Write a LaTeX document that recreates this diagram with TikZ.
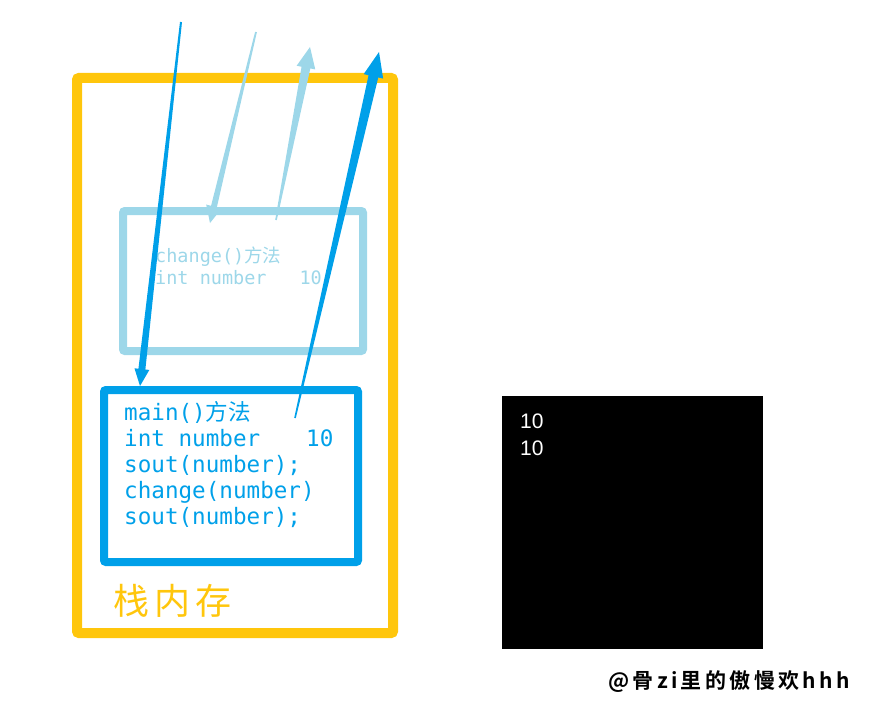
\documentclass[tikz,border=0pt]{standalone}
\usepackage{fontspec}
\usetikzlibrary{calc}
\setmainfont{Liberation Sans}
\newfontfamily\cjk{Noto Sans CJK SC}
\newfontfamily\cjkb{Noto Sans CJK SC Bold}
\newfontfamily\mono{DejaVu Sans Mono}
\definecolor{yel}{RGB}{255,198,12}
\definecolor{dblue}{RGB}{0,160,233}
\definecolor{lblue}{RGB}{157,215,233}
\newcommand\taperarrow[7]{% tail, tip, w1, w2, headlen, headhalf, color
  \coordinate (tb) at ($(#2)!#5pt!(#1)$);
  \coordinate (tb2) at ($(tb)!-1pt!(#1)$);
  \fill[#7] ($(#1)!#3pt!90:(#2)$) -- ($(tb2)!#4pt!90:(#2)$) -- ($(tb2)!#4pt!-90:(#2)$) -- ($(#1)!#3pt!-90:(#2)$) -- cycle;
  \fill[#7] (#2) -- ($(tb)!#6pt!90:(#2)$) -- ($(tb)!#6pt!-90:(#2)$) -- cycle;
}
\tikzset{
  framebox/.style={draw, rounded corners=2pt, inner sep=0pt, outer sep=0pt},
  codetext/.style={anchor=base west, inner sep=0pt, font=\mono\fontsize{22.6}{26}\selectfont, text=dblue},
  chgtext/.style={anchor=base west, inner sep=0pt, font=\mono\fontsize{18.5}{22}\selectfont, text=lblue},
}
\begin{document}
\begin{tikzpicture}[x=1pt,y=-1pt]
\useasboundingbox (0,0) rectangle (888,706);
% boxes
\node[framebox, draw=yel, line width=10pt, minimum width=316pt, minimum height=555pt] (stack) at (235,355.5) {};
\node[framebox, draw=lblue, line width=8pt, minimum width=240pt, minimum height=140pt] (chg) at (243,281) {};
\node[framebox, draw=dblue, line width=8pt, minimum width=254pt, minimum height=172pt] (mainb) at (231,476) {};
\node[fill=black, inner sep=0pt, minimum width=261pt, minimum height=253pt] (console) at (632.5,522.5) {};
% change() text
\node[chgtext] (c1) at (155,262) {change()\cjk 方法};
\node[chgtext] (c2) at (155,284) {int number\hspace{33pt}10};
% main() text
\node[codetext] (m1) at (124,420) {main()\cjk 方法};
\node[codetext] (m2) at (124,446) {int number\hspace{46pt}10};
\node[codetext] (m3) at (124,472) {sout(number);};
\node[codetext] (m4) at (124,498) {change(number)};
\node[codetext] (m5) at (124,524) {sout(number);};
% stack label
\node[text=yel, font=\cjk\fontsize{36}{40}\selectfont\addfontfeature{LetterSpace=14}, inner sep=0pt, anchor=base west] (lbl) at (113,614) {栈内存};
% console output
\node[text=white, font=\fontsize{21}{25}\selectfont, anchor=base west, inner sep=0pt] (o1) at (520,428) {10};
\node[text=white, font=\fontsize{21}{25}\selectfont, anchor=base west, inner sep=0pt] (o2) at (520,455) {10};
% watermark
\node[font=\cjkb\fontsize{21}{24}\selectfont\addfontfeature{LetterSpace=16}, inner sep=0pt] (wm) at (729,682) {@骨zi里的傲慢欢hhh};
% arrows
\coordinate (a1s) at (181,22);  \coordinate (a1t) at (140,386);
\coordinate (a2s) at (256,32);  \coordinate (a2t) at (210,223);
\coordinate (a3s) at (276,220); \coordinate (a3t) at (310,47);
\coordinate (a4s) at (295,418); \coordinate (a4t) at (379,52);
\taperarrow{a2s}{a2t}{0.9}{3}{17}{8}{lblue}
\taperarrow{a3s}{a3t}{0.8}{4.5}{21}{9.5}{lblue}
\taperarrow{a1s}{a1t}{1}{3.5}{17}{7.5}{dblue}
\taperarrow{a4s}{a4t}{0.8}{5}{25}{10}{dblue}
\end{tikzpicture}
\end{document}
